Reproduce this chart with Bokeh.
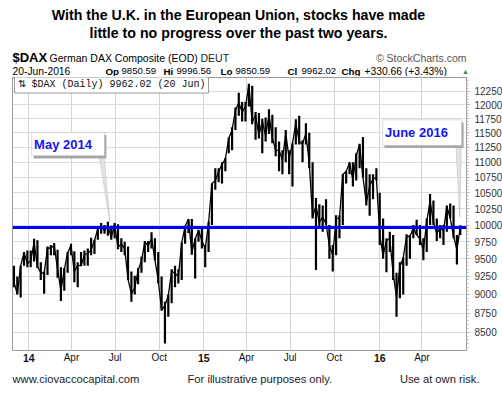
import pandas as pd
from bokeh.plotting import figure
from bokeh.layouts import column
from bokeh.models import (Range1d, FixedTicker, NumeralTickFormatter, Span, Label, Grid, Plot,
                          BoxAnnotation, PolyAnnotation, ColumnDataSource)
from bokeh.core.properties import value
from bokeh.embed import file_html
from bokeh.resources import INLINE

# ---------------- data (weekly high / low / close) ----------------
WEEKS = pd.date_range("2013-12-02", "2016-06-20", freq="W-MON")

HIGH = [
    9400, 9250, 9400, 9600, 9620,
    9620, 9795, 9770, 9450,
    9320, 9680, 9700, 9730,
    9630, 9380, 9370, 9600, 9720,
    9610, 9450, 9600, 9620,
    9650, 9810, 9780, 9960,
    10030, 10000, 10050, 9990, 10030,
    10010, 9800, 9750, 9680,
    9320, 9260, 9370, 9530,
    9760, 9760, 9890, 9800, 9600,
    9250, 8900, 9000, 9350,
    9400, 9350, 9740, 9990,
    10090, 10090, 9800, 9930, 9950,
    9700, 10050, 10650, 10900,
    10900, 11000, 11070, 11420,
    11600, 11950, 12220, 12050, 12050,
    12390, 12350, 11870, 11850,
    11750, 11770, 11920, 11820,
    11600, 11350, 11200, 11550, 11200,
    11320, 11740, 11800, 11370,
    11670, 11500, 11000, 10420, 10320,
    10300, 10400, 10000, 9700,
    10150, 10150, 10800, 10850,
    11000, 11000, 11150, 11310, 11430,
    10900, 10800, 10800, 10900,
    10500, 10100, 9800, 9900,
    9850, 9300, 9450, 9520, 9860,
    9850, 10000, 10080, 10000,
    9800, 10100, 10480, 10380,
    10100, 10000, 10000, 10300, 10330,
    10300, 9850, 9997,
]
LOW = [
    9100, 9000, 8960, 9400, 9380,
    9380, 9460, 9370, 9200,
    9010, 9270, 9550, 9550,
    9230, 8910, 9050, 9300, 9550,
    9170, 9100, 9400, 9400,
    9400, 9550, 9570, 9780,
    9870, 9870, 9840, 9780, 9800,
    9640, 9600, 9550, 9200,
    8900, 9000, 9140, 9300,
    9450, 9600, 9650, 9480, 9150,
    8780, 8355, 8700, 8880,
    9100, 9150, 9200, 9720,
    9880, 9560, 9220, 9750, 9650,
    9380, 9600, 10000, 10550,
    10670, 10650, 10850, 11150,
    11200, 11550, 11800, 11700, 11700,
    11970, 11650, 11380, 11400,
    11150, 11350, 11480, 11320,
    11100, 10850, 10800, 11000, 10800,
    10600, 11300, 11300, 11000,
    11300, 10900, 10100, 9340, 9950,
    9900, 10000, 9500, 9320,
    9550, 9800, 10000, 10650,
    10800, 10600, 10700, 10900, 10750,
    10300, 10140, 10400, 10700,
    9700, 9500, 9310, 9600,
    9200, 8700, 8950, 9000, 9400,
    9500, 9800, 9850, 9700,
    9480, 9600, 10000, 10000,
    9760, 9800, 9700, 9900, 10100,
    9800, 9420, 9850,
]
CLOSE = [
    9170, 9006, 9400, 9590, 9435,
    9470, 9740, 9390, 9306,
    9290, 9660, 9656, 9692,
    9350, 9056, 9342, 9587, 9695,
    9315, 9410, 9400, 9556,
    9581, 9630, 9768, 9943,
    9987, 9912, 9987, 9815, 10009,
    9666, 9720, 9644, 9210,
    9009, 9092, 9339, 9470,
    9747, 9691, 9799, 9490, 9195,
    8788, 8850, 8988, 9326,
    9291, 9253, 9732, 9980,
    10087, 9594, 9787, 9922, 9765,
    9648, 10032, 10649, 10694,
    10846, 10963, 11051, 11402,
    11550, 11901, 12039, 11868, 11968,
    12375, 11688, 11810, 11454,
    11710, 11447, 11815, 11413,
    11197, 11197, 11041, 11492, 11058,
    11315, 11674, 11347, 11309,
    11490, 10985, 10124, 10298, 10038,
    10123, 10020, 9688, 9554,
    10096, 10104, 10795, 10850,
    10988, 10708, 11119, 11293, 10752,
    10340, 10608, 10727, 10743,
    9849, 9545, 9764, 9798,
    9286, 8968, 9388, 9513, 9824,
    9831, 9950, 9851, 9794,
    9622, 10051, 10373, 10039,
    9870, 9952, 9916, 10287, 10103,
    9834, 9631, 9962,
]

X_TICK_DATES = ["2014-01-02", "2014-04-01", "2014-07-01", "2014-10-01", "2015-01-02",
                "2015-04-01", "2015-07-01", "2015-10-01", "2016-01-04", "2016-04-01"]
X_TICK_LABELS = ["14", "Apr", "Jul", "Oct", "15", "Apr", "Jul", "Oct", "16", "Apr"]
Y_TICKS = [8500, 8750, 9000, 9250, 9500, 9750, 10000, 10250, 10500, 10750,
           11000, 11250, 11500, 11750, 12000, 12250]
LEVEL = 9962.02  # horizontal reference line (20 Jun 2016 close)

X_START, X_END = "2013-11-29", "2016-07-03"
Y_LOW, Y_HIGH = 8267, 12507

# callouts anchored in data space
MAY_CALLOUT = dict(text="May 2014", left="2014-01-08", right="2014-06-09", top=11507, bottom=11107,
                   tx="2014-01-13", ty=11300, b0="2014-05-29", b1="2014-06-08",
                   tip_x="2014-06-20", tip_y=10050)
JUNE_CALLOUT = dict(text="June 2016", left="2016-01-10", right="2016-06-23", top=11730, bottom=11282,
                    tx="2016-01-15", ty=11511, b0="2016-06-11", b1="2016-06-22",
                    tip_x="2016-06-19", tip_y=10124)


def ms(d):
    return int(pd.Timestamp(d).value // 10**6)


FONT = value("Liberation Sans")
W = 502
FRAME_L = 12
FRAME_W = 454
HAS_FRAME_ALIGN = "frame_align" in Plot.properties()


def text_panel(height):
    """A plain text panel whose frame covers the whole canvas (page pixel coordinates)."""
    if HAS_FRAME_ALIGN:
        xr = Range1d(0, W)
        fig = figure(width=W, height=height, x_range=xr, y_range=Range1d(height, 0),
                     x_axis_location=None, y_axis_location=None, output_backend="svg",
                     toolbar_location=None, min_border_left=0, min_border_right=0,
                     min_border_top=0, min_border_bottom=0)
        fig.frame_align = False
    else:
        xr = Range1d(FRAME_L, FRAME_L + FRAME_W)
        fig = figure(frame_width=FRAME_W, height=height, x_range=xr, y_range=Range1d(height, 0),
                     x_axis_location=None, y_axis_location=None, output_backend="svg",
                     toolbar_location=None, min_border_left=FRAME_L, min_border_right=0,
                     min_border_top=0, min_border_bottom=0)
    fig.grid.visible = False
    fig.outline_line_color = None
    fig.background_fill_color = "white"
    fig.border_fill_color = "white"
    return fig


def htext(fig, x, y, t, size, bold=False, color="#000000", align="left", font=FONT):
    fig.text(x=[x], y=[y], text=[t], text_font=font, text_font_size=value(f"{size}px"),
             text_font_style=value("bold" if bold else "normal"), text_color=value(color),
             text_align=value(align), text_baseline=value("middle"))


# ---------------- header ----------------
top = text_panel(76)
htext(top, 238, 14, "With the U.K. in the European Union, stocks have made", 14.2, bold=True, align="center")
htext(top, 238, 32.7, "little to no progress over the past two years.", 14.2, bold=True, align="center")

htext(top, 12, 57.3, "$DAX", 13, bold=True)
htext(top, 49, 57.3, "German DAX Composite (EOD)", 10.5)
htext(top, 200, 57.3, "DEUT", 10.5, color="#222222")
htext(top, 466, 57.3, "\u00a9 StockCharts.com", 10.5, color="#555555", align="right")

htext(top, 12, 70.7, "20-Jun-2016", 10.3)
htext(top, 105, 70.7, "Op", 9.8, bold=True)
htext(top, 121, 70.7, "9850.59", 9.6)
htext(top, 163, 70.7, "Hi", 9.8, bold=True)
htext(top, 176, 70.7, "9996.56", 9.6)
htext(top, 220, 70.7, "Lo", 9.8, bold=True)
htext(top, 235, 70.7, "9850.59", 9.6)
htext(top, 287, 70.7, "Cl", 9.8, bold=True)
htext(top, 301, 70.7, "9962.02", 9.6)
htext(top, 341, 70.7, "Chg", 9.8, bold=True)
htext(top, 364, 70.7, "+330.66 (+3.43%)", 10.3)
htext(top, 465, 70.7, "\u25b2", 7, color="#2e8b3a", align="center")

# ---------------- main chart ----------------
src = ColumnDataSource(dict(x=WEEKS, high=HIGH, low=LOW, close=CLOSE))

p = figure(frame_width=FRAME_W, frame_height=273, x_axis_type="datetime", y_axis_type="log",
           x_axis_location=None, y_axis_location="right",
           x_range=Range1d(ms(X_START), ms(X_END)), y_range=Range1d(Y_LOW, Y_HIGH),
           output_backend="svg", toolbar_location=None,
           min_border_left=FRAME_L, min_border_top=1, min_border_bottom=1, min_border_right=0)
p.background_fill_color = "white"
p.border_fill_color = "white"
p.outline_line_color = "#9a9a9a"

tick_ms = [ms(d) for d in X_TICK_DATES]

yax = p.yaxis[0]
yax.ticker = FixedTicker(ticks=Y_TICKS, minor_ticks=list(range(8300, 12500, 50)))
yax.formatter = NumeralTickFormatter(format="0")
yax.axis_line_color = None
yax.major_tick_line_color = "#999999"
yax.major_tick_out = 3
yax.major_tick_in = 0
yax.minor_tick_line_color = "#bbbbbb"
yax.minor_tick_out = 2
yax.minor_tick_in = 0
yax.major_label_standoff = 5
yax.major_label_text_font = "Liberation Sans"
yax.major_label_text_font_size = "10px"
yax.major_label_text_color = "#333333"
p.ygrid.grid_line_color = "#dcdcdc"

if len(p.xgrid) == 0:
    p.add_layout(Grid(dimension=0, ticker=FixedTicker(ticks=tick_ms)))
p.xgrid.ticker = FixedTicker(ticks=tick_ms)
p.xgrid.grid_line_color = "#d4d4d4"

# price bars
p.segment(x0="x", y0="low", x1="x", y1="high", source=src, line_color="black", line_width=2.2)
p.line(x="x", y="close", source=src, line_color="black", line_width=1.3)

# horizontal level line
p.add_layout(Span(location=LEVEL, dimension="width", line_color="#0000ff", line_width=3))


def callout(c):
    days4 = 4 * 86400000
    p.add_layout(PolyAnnotation(xs=[ms(c["b0"]), ms(c["tip_x"]), ms(c["b1"])],
                                ys=[c["bottom"], c["tip_y"], c["bottom"]],
                                fill_color="#e4e4e4", fill_alpha=1.0,
                                line_color="#8c8c8c", line_width=1))
    p.add_layout(BoxAnnotation(left=ms(c["left"]) + days4, right=ms(c["right"]) + days4,
                               top=c["top"] * 0.996, bottom=c["bottom"] * 0.996,
                               fill_color="#a8a8a8", fill_alpha=1.0, line_color=None))
    p.add_layout(BoxAnnotation(left=ms(c["left"]), right=ms(c["right"]),
                               top=c["top"], bottom=c["bottom"],
                               fill_color="white", fill_alpha=1.0,
                               line_color="#8c8c8c", line_width=1))
    p.add_layout(Label(x=ms(c["tx"]), y=c["ty"], text=c["text"], text_font="Liberation Sans",
                       text_font_size="13px", text_font_style="bold", text_color="#1414ee",
                       text_align="left", text_baseline="middle"))


callout(MAY_CALLOUT)
callout(JUNE_CALLOUT)

# legend box inside the frame
p.add_layout(Label(x=ms(X_START), y=Y_HIGH, x_offset=2, y_offset=-7,
                   text="\u21c5 $DAX (Daily) 9962.02 (20 Jun)", text_font="Liberation Mono",
                   text_font_size="10px", text_color="#111111", text_align="left",
                   text_baseline="middle", padding=3, background_fill_color="white",
                   background_fill_alpha=1.0, border_line_color="#999999"))

# ---------------- x tick label strip (shares the chart's x scale) ----------------
strip = figure(frame_width=FRAME_W, height=16, x_range=p.x_range, y_range=Range1d(16, 0),
               x_axis_location=None, y_axis_location=None, output_backend="svg",
               toolbar_location=None, min_border_left=FRAME_L, min_border_right=0,
               min_border_top=0, min_border_bottom=0)
strip.grid.visible = False
strip.outline_line_color = None
yr_x = [t for t, lab in zip(tick_ms, X_TICK_LABELS) if lab.isdigit()]
yr_t = [lab for lab in X_TICK_LABELS if lab.isdigit()]
mo_x = [t for t, lab in zip(tick_ms, X_TICK_LABELS) if not lab.isdigit()]
mo_t = [lab for lab in X_TICK_LABELS if not lab.isdigit()]
strip.text(x=yr_x, y=[6] * len(yr_x), text=yr_t, text_font=FONT, text_font_size=value("10.5px"),
           text_font_style=value("bold"), text_color=value("#111111"),
           text_align=value("center"), text_baseline=value("middle"))
strip.text(x=mo_x, y=[6] * len(mo_x), text=mo_t, text_font=FONT, text_font_size=value("10px"),
           text_color=value("#111111"), text_align=value("center"), text_baseline=value("middle"))

# ---------------- footer ----------------
bottom = text_panel(30)
htext(bottom, 12, 11, "www.ciovaccocapital.com", 11.2, color="#1c1c2c")
htext(bottom, 187, 11, "For illustrative purposes only.", 11.2, color="#1c1c2c")
htext(bottom, 479 if HAS_FRAME_ALIGN else 466, 11, "Use at own risk.", 11.2, color="#1c1c2c", align="right")

layout = column(top, p, strip, bottom, spacing=0)
open("out.html", "w").write(file_html(layout, INLINE))
